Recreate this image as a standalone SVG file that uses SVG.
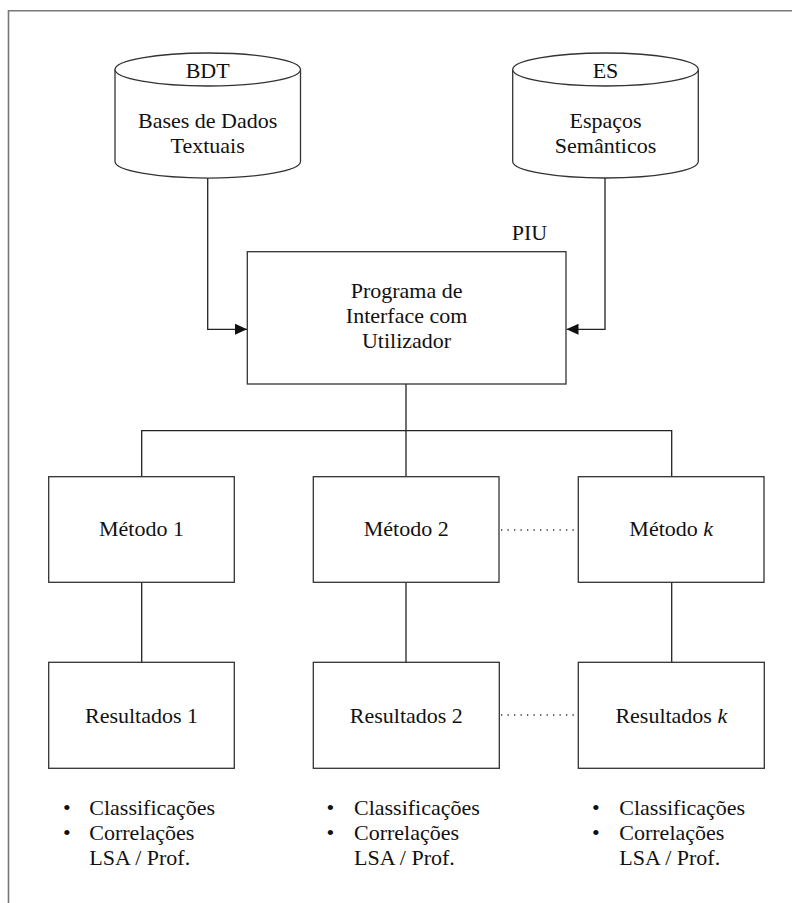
<svg xmlns="http://www.w3.org/2000/svg" width="792" height="903" viewBox="0 0 792 903" font-family="'Liberation Serif', 'DejaVu Serif', serif">
<defs>
<style>
text{font-family:"Liberation Serif","DejaVu Serif",serif;font-size:22px;fill:#111;}
.c{text-anchor:middle;}
.box{fill:#fff;stroke:#333;stroke-width:1.3;}
.ln{fill:none;stroke:#222;stroke-width:1.3;}
.dot{fill:none;stroke:#333;stroke-width:1.3;stroke-dasharray:1.3 5.2;}
.frame{fill:none;stroke:#777;stroke-width:1.6;}
</style>
<marker id="arr" viewBox="0 0 12 12" refX="12" refY="6" markerWidth="12" markerHeight="12" markerUnits="userSpaceOnUse" orient="auto">
<path d="M0,0.5 L12,6 L0,11.5 Z" fill="#111"/>
</marker>
</defs>
<rect width="792" height="903" fill="#fff"/>
<path class="frame" d="M8.5,903 V10.8 H792"/>

<g id="connectors">
<path class="ln" d="M207.7,178 V329.3 H247" marker-end="url(#arr)"/>
<path class="ln" d="M605,178 V329.3 H566.5" marker-end="url(#arr)"/>
<path class="ln" d="M406,384 V476.7"/>
<path class="ln" d="M141.7,476.7 V430.7 H671.7 V476.7"/>
<path class="ln" d="M141.7,582.3 V662.3"/>
<path class="ln" d="M406,582.3 V662.3"/>
<path class="ln" d="M671.7,582.3 V662.3"/>
<path class="dot" d="M501,530 H578"/>
<path class="dot" d="M501,715 H578"/>
</g>

<g id="BDT">
<path class="box" d="M115,69.5 V161.5 A92.5,16.5 0 0 0 300.5,161.5 V69.5"/>
<ellipse class="box" cx="207.75" cy="69.5" rx="92.75" ry="16.5"/>
<text class="c" x="207.7" y="77.5">BDT</text>
<text class="c" x="207.7" y="127.5">Bases de Dados</text>
<text class="c" x="207.7" y="152.5">Textuais</text>
</g>

<g id="ES">
<path class="box" d="M512.7,69.5 V161.5 A92.8,16.5 0 0 0 698.3,161.5 V69.5"/>
<ellipse class="box" cx="605.5" cy="69.5" rx="92.8" ry="16.5"/>
<text class="c" x="605.5" y="77.5">ES</text>
<text class="c" x="605.5" y="127.5">Espaços</text>
<text class="c" x="605.5" y="152.5">Semânticos</text>
</g>

<g id="PIU">
<rect class="box" x="247.3" y="251.7" width="318.7" height="132.3"/>
<text x="511.7" y="240">PIU</text>
<text class="c" x="406.6" y="297.7">Programa de</text>
<text class="c" x="406.6" y="322.7">Interface com</text>
<text class="c" x="406.6" y="347.7">Utilizador</text>
</g>

<g id="metodo1">
<rect class="box" x="48.7" y="476.7" width="185.6" height="105.6"/>
<text class="c" x="141.5" y="536">Método 1</text>
</g>
<g id="metodo2">
<rect class="box" x="313.3" y="476.7" width="185.7" height="105.6"/>
<text class="c" x="406.2" y="536">Método 2</text>
</g>
<g id="metodok">
<rect class="box" x="578.3" y="476.7" width="185.7" height="105.6"/>
<text class="c" x="671.2" y="536">Método <tspan font-style="italic">k</tspan></text>
</g>

<g id="resultados1">
<rect class="box" x="48.7" y="662.3" width="185.6" height="106"/>
<text class="c" x="141.5" y="722.7">Resultados 1</text>
</g>
<g id="resultados2">
<rect class="box" x="313.3" y="662.3" width="186" height="106"/>
<text class="c" x="406.3" y="722.7">Resultados 2</text>
</g>
<g id="resultadosk">
<rect class="box" x="578.3" y="662.3" width="186" height="106"/>
<text class="c" x="671.3" y="722.7">Resultados <tspan font-style="italic">k</tspan></text>
</g>

<g id="lista1">
<text x="63" y="815">•</text><text x="89.3" y="815">Classificações</text>
<text x="63" y="840">•</text><text x="89.3" y="840">Correlações</text>
<text x="89.3" y="865">LSA / Prof.</text>
</g>
<g id="lista2">
<text x="326.5" y="815">•</text><text x="354" y="815">Classificações</text>
<text x="326.5" y="840">•</text><text x="354" y="840">Correlações</text>
<text x="354" y="865">LSA / Prof.</text>
</g>
<g id="listak">
<text x="592" y="815">•</text><text x="619.3" y="815">Classificações</text>
<text x="592" y="840">•</text><text x="619.3" y="840">Correlações</text>
<text x="619.3" y="865">LSA / Prof.</text>
</g>
</svg>
